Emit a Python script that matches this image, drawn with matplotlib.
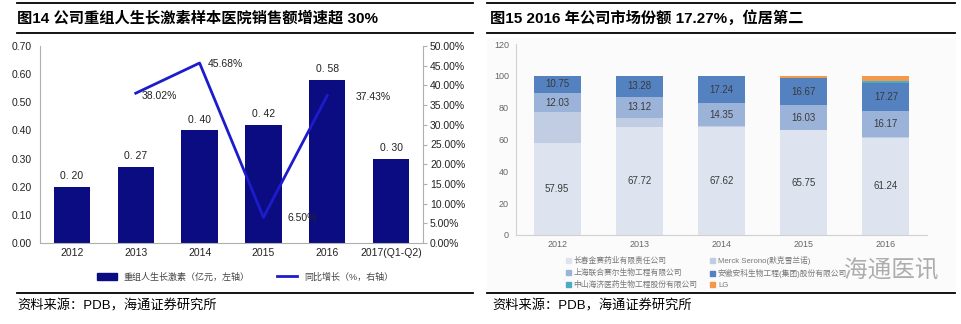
import numpy as np
import matplotlib
matplotlib.use("Agg")
import matplotlib.pyplot as plt
from matplotlib.lines import Line2D
from matplotlib.patches import Patch

plt.rcParams['font.family'] = ['Liberation Sans', 'Noto Sans CJK SC', 'DejaVu Sans']
plt.rcParams['axes.unicode_minus'] = False

# ---------------- data: left chart ----------------
years_left = ["2012", "2013", "2014", "2015", "2016", "2017(Q1-Q2)"]
sales = [0.20, 0.27, 0.40, 0.42, 0.58, 0.30]
growth_years = [1, 2, 3, 4]
growth = [38.02, 45.68, 6.50, 37.43]

# ---------------- data: right chart ----------------
years_right = ["2012", "2013", "2014", "2015", "2016"]
companies = ["长春金赛药业有限责任公司", "Merck Serono(默克雪兰诺)",
             "上海联合赛尔生物工程有限公司", "安徽安科生物工程(集团)股份有限公司",
             "中山海济医药生物工程股份有限公司", "LG"]
jinsai = [57.95, 67.72, 67.62, 65.75, 61.24]
merck = [19.27, 5.88, 0.79, 0.0, 0.6]
lianhe = [12.03, 13.12, 14.35, 16.03, 16.17]
anke = [10.75, 13.28, 17.24, 16.67, 17.27]
haiji = [0.0, 0.0, 0.0, 0.4, 1.4]
lg = [0.0, 0.0, 0.0, 0.9, 3.3]
labeled = [True, False, True, True, False, False]

W, H = 962, 324
fig = plt.figure(figsize=(W / 100, H / 100), dpi=100)


def ax_px(x0, y0, x1, y1):
    return fig.add_axes([x0 / W, 1 - y1 / H, (x1 - x0) / W, (y1 - y0) / H])


# faint background of right panel
fig.add_artist(plt.Rectangle((487 / W, 1 - 290 / H), 468 / W, 252 / H,
                             color="#fbfbfb", zorder=0, transform=fig.transFigure))

# frame lines and titles
for xa, xb in [(17, 473), (487, 955)]:
    for yy in [3, 33, 293]:
        fig.add_artist(Line2D([xa / W, xb / W], [1 - yy / H, 1 - yy / H],
                              color="black", lw=1.3))
fig.text(17 / W, 1 - 18 / H, "图14 公司重组人生长激素样本医院销售额增速超 30%",
         fontsize=11, fontweight="bold", va="center", ha="left")
fig.text(490 / W, 1 - 18 / H, "图15 2016 年公司市场份额 17.27%，位居第二",
         fontsize=11, fontweight="bold", va="center", ha="left")
fig.text(17 / W, 1 - 306 / H, "资料来源：PDB，海通证券研究所", fontsize=9.5,
         va="center", ha="left")
fig.text(492 / W, 1 - 306 / H, "资料来源：PDB，海通证券研究所", fontsize=9.5,
         va="center", ha="left")

# ---------------- left chart ----------------
ax = ax_px(40, 46, 423, 243)
x = np.arange(len(years_left))
ax.bar(x, sales, width=0.57, color="#0c0c82", zorder=2)
for xi, v in zip(x, sales):
    ax.text(xi, v + 0.02, f"{v:.2f}".replace(".", ". "), ha="center", va="bottom",
            fontsize=7.5, color="#222222")
ax.set_xlim(-0.5, len(years_left) - 0.5)
ax.set_ylim(0, 0.70)
ax.set_yticks(np.arange(0, 0.71, 0.10))
ax.set_yticklabels([f"{t:.2f}" for t in np.arange(0, 0.71, 0.10)])
ax.set_xticks(x)
ax.set_xticklabels(years_left)
ax.tick_params(labelsize=7.5, length=0, colors="#222222")
ax.tick_params(axis="y", pad=6)
for s in ["top", "right"]:
    ax.spines[s].set_visible(False)
for s in ["left", "bottom"]:
    ax.spines[s].set_color("#b0b0b0")
    ax.spines[s].set_linewidth(0.8)

ax2 = ax.twinx()
ax2.plot(growth_years, growth, color="#1c1ccc", lw=2.0, zorder=3)
ax2.set_ylim(0, 50)
ax2.set_yticks(np.arange(0, 51, 5))
ax2.set_yticklabels([f"{t:.2f}%" for t in np.arange(0, 51, 5)])
ax2.tick_params(labelsize=7.5, length=3, colors="#222222", pad=2)
ax2.tick_params(axis="y", color="#b0b0b0")
for s in ["top", "left", "bottom"]:
    ax2.spines[s].set_visible(False)
ax2.spines["right"].set_color("#b0b0b0")
ax2.spines["right"].set_linewidth(0.8)
offsets = [(0.1, -0.6), (0.13, -0.2), (0.37, -0.2), (0.44, -0.4)]
for xi, g, (dx, dy) in zip(growth_years, growth, offsets):
    ax2.text(xi + dx, g + dy, f"{g:.2f}%", fontsize=7.5, color="#222222",
             ha="left", va="center")

handles = [Patch(color="#0c0c82"), Line2D([0], [0], color="#1c1ccc", lw=2)]
fig.legend(handles, ["重组人生长激素（亿元，左轴）", "同比增长（%，右轴）"],
           loc="center", bbox_to_anchor=(245 / W, 1 - 277 / H), ncol=2,
           frameon=False, fontsize=6.5, handlelength=2.2, columnspacing=3,
           labelcolor="#444444")

# ---------------- right chart ----------------
axr = ax_px(516, 44, 927, 235)
axr.set_facecolor("none")
xr = np.arange(len(years_right))
colors = ["#dde4f0", "#c0cde3", "#9cb3d9", "#5482c0", "#4bacc6", "#f29a4a"]
series = [jinsai, merck, lianhe, anke, haiji, lg]
bottom = np.zeros(len(years_right))
for vals, c, lab in zip(series, colors, labeled):
    vals = np.array(vals)
    axr.bar(xr, vals, bottom=bottom, width=0.57, color=c, zorder=2)
    if lab:
        for xi, b, v in zip(xr, bottom, vals):
            axr.text(xi, b + v / 2, f"{v:.2f}", ha="center", va="center",
                     fontsize=7, color="#3a3a3a")
    bottom += vals
axr.set_xlim(-0.5, len(years_right) - 0.5)
axr.set_ylim(0, 120)
axr.set_yticks(np.arange(0, 121, 20))
axr.set_xticks(xr)
axr.set_xticklabels(years_right)
axr.tick_params(labelsize=6.5, length=0, colors="#666666")
axr.tick_params(axis="y", pad=5)
for s in ["top", "right"]:
    axr.spines[s].set_visible(False)
for s in ["left", "bottom"]:
    axr.spines[s].set_color("#d0d0d0")
    axr.spines[s].set_linewidth(0.8)

# legend is filled column by column, so reorder to read row by row
order = [0, 2, 4, 1, 3, 5]
handles_r = [Patch(color=colors[i]) for i in order]
fig.legend(handles_r, [companies[i] for i in order], loc="upper left",
           bbox_to_anchor=(562 / W, 1 - 252 / H), ncol=2, frameon=False,
           fontsize=5.6, handlelength=0.6, handleheight=0.6, handletextpad=0.4,
           columnspacing=1.6, labelspacing=0.5, borderpad=0,
           labelcolor="#777777")

fig.text(891 / W, 1 - 271 / H, "海通医讯", fontsize=17, color="#9a9a9a",
         ha="center", va="center", style="italic", alpha=0.8)

fig.savefig("out.png", dpi=100, facecolor="white")
